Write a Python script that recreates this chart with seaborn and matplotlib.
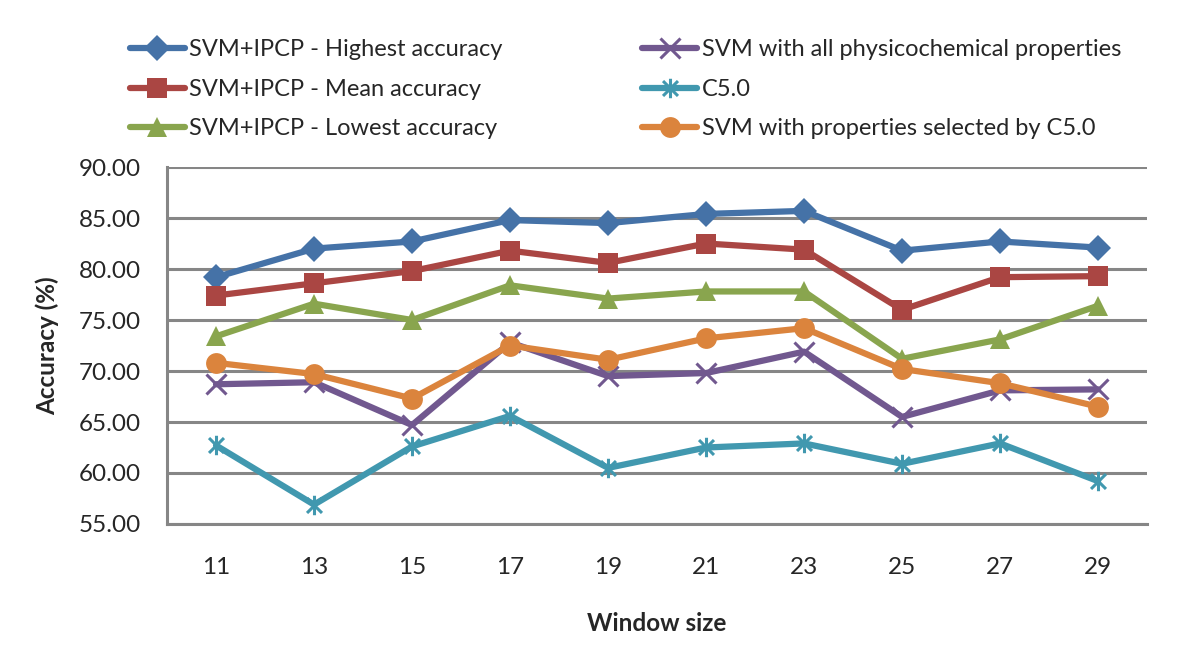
import seaborn as sns
import matplotlib.pyplot as plt
from matplotlib.path import Path

# Données
window_sizes = [11, 13, 15, 17, 19, 21, 23, 25, 27, 29]
highest = [79.2, 82.0, 82.7, 84.8, 84.5, 85.4, 85.7, 81.8, 82.7, 82.1]
mean = [77.4, 78.6, 79.8, 81.8, 80.6, 82.5, 81.9, 76.0, 79.2, 79.3]
lowest = [73.4, 76.6, 75.0, 78.4, 77.1, 77.8, 77.8, 71.2, 73.1, 76.4]
svm_all = [68.7, 68.9, 64.7, 72.8, 69.5, 69.8, 71.9, 65.5, 68.1, 68.2]
c50 = [62.7, 56.9, 62.6, 65.6, 60.5, 62.5, 62.9, 60.9, 62.9, 59.2]
svm_sel = [70.8, 69.7, 67.3, 72.5, 71.1, 73.2, 74.2, 70.2, 68.8, 66.5]

labels = ["SVM+IPCP - Highest accuracy", "SVM+IPCP - Mean accuracy",
          "SVM+IPCP - Lowest accuracy", "SVM with all physicochemical properties",
          "C5.0", "SVM with properties selected by C5.0"]
y_ticks = [55, 60, 65, 70, 75, 80, 85, 90]

sns.set_style("white")
plt.rcParams['font.family'] = ['Lato', 'DejaVu Sans']

# marqueur étoile façon Excel (X + trait vertical)
star = Path([(-1, -1), (1, 1), (-1, 1), (1, -1), (0, -1.3), (0, 1.3)],
            [Path.MOVETO, Path.LINETO, Path.MOVETO, Path.LINETO, Path.MOVETO, Path.LINETO])

series = [highest, mean, lowest, svm_all, c50, svm_sel]
colors = ['#4572A7', '#AA4643', '#89A54E', '#71588F', '#4198AF', '#DB843D']
markers = ['D', 's', '^', 'x', star, 'o']
sizes = [13, 15, 15, 14, 14, 15]

fig = plt.figure(figsize=(12, 6.67), dpi=100)
ax = fig.add_axes([0.1392, 0.2144, 0.8167, 0.5352])

for vals, lab, col, mk, ms in zip(series, labels, colors, markers, sizes):
    filled = mk not in ('x',) and mk is not star
    sns.lineplot(x=window_sizes, y=vals, ax=ax, color=col, lw=4.5, label=lab,
                 marker=mk, markersize=ms, markerfacecolor=col if filled else 'none',
                 markeredgecolor=col, markeredgewidth=2.2 if not filled else 0)

ax.set_xlim(10, 30)
ax.set_ylim(55, 90)
ax.set_xticks(window_sizes)
ax.set_yticks(y_ticks)
ax.set_yticklabels([f"{v:.2f}" for v in y_ticks])
ax.yaxis.grid(True, color='#868686', lw=2.2)
ax.set_axisbelow(True)
for s in ['top', 'right']:
    ax.spines[s].set_visible(False)
for s in ['left', 'bottom']:
    ax.spines[s].set_color('#868686')
    ax.spines[s].set_linewidth(2.2)
ax.tick_params(axis='y', length=7, width=2.2, color='#868686', pad=12, labelsize=17.5)
ax.tick_params(axis='x', length=0, pad=24, labelsize=17.5)

ax.set_ylabel("Accuracy (%)", fontsize=17.5, fontweight='bold', labelpad=14)
ax.set_xlabel("Window size", fontsize=17.5, fontweight='bold', labelpad=24)

handles, labs = ax.get_legend_handles_labels()
ax.get_legend().remove()
fig.legend(handles, labs, ncol=2, loc='upper left', bbox_to_anchor=(0.108, 0.941),
           frameon=False, fontsize=17, handlelength=2.33, handletextpad=0.2,
           labelspacing=0.78, columnspacing=5.9, borderpad=0, borderaxespad=0)

plt.savefig("out.png", dpi=100)
